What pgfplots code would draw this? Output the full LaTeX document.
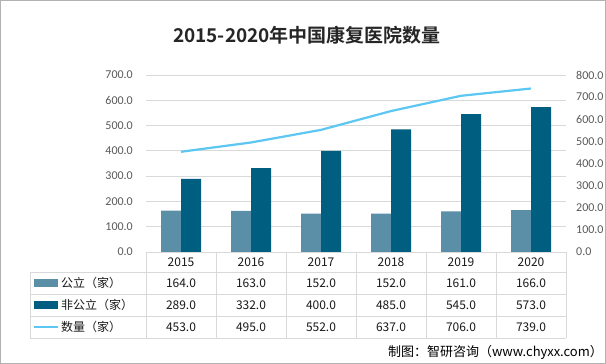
\documentclass[border=0pt]{standalone}
\usepackage{pgfplots}
\usepackage{pgfplotstable}
\pgfplotsset{compat=1.18}
\usepackage{fontspec}
\setmainfont{Carlito}
\newfontfamily\cjk[BoldFont={Noto Sans CJK SC Bold}]{Noto Sans CJK SC}
\definecolor{pub}{RGB}{91,143,168}
\definecolor{priv}{RGB}{0,94,128}
\definecolor{tot}{RGB}{92,199,242}
\definecolor{gridc}{RGB}{217,217,217}
\definecolor{tickc}{RGB}{89,89,89}
\pgfplotstableread{
x pub priv tot
0 164 289 453
1 163 332 495
2 152 400 552
3 152 485 637
4 161 545 706
5 166 573 739
}\datatable
\begin{document}
\begin{tikzpicture}[x=1pt,y=1pt]
\path[use as bounding box] (0,0) rectangle (606,364);
\fill[white] (0,0) rectangle (606,364);
\draw[gray!60, line width=1pt] (0.5,0.5) rectangle (605.5,363.5);
\node[font=\cjk\bfseries\fontsize{19}{22}\selectfont, text=black!85] at (307,329) {2015-2020年中国康复医院数量};
\begin{axis}[at={(146pt,112pt)}, anchor=south west, scale only axis,
  width=420pt, height=177pt, xmin=-0.5, xmax=5.5, ymin=0, ymax=700,
  ytick={0,100,...,700}, xtick=\empty, ymajorgrids,
  grid style={gridc, line width=0.8pt},
  axis line style={draw=none}, major tick length=0pt,
  ybar=0pt, bar width=20pt,
  yticklabel style={font=\fontsize{12}{14}\selectfont, text=tickc, inner sep=0pt, xshift=-13pt},
  /pgf/number format/assume math mode=true,
  /pgf/number format/fixed, /pgf/number format/fixed zerofill, /pgf/number format/precision=1]
\addplot[ybar, fill=pub, draw=none] table[x=x,y=pub]{\datatable};
\addplot[ybar, fill=priv, draw=none] table[x=x,y=priv]{\datatable};
\end{axis}
\begin{axis}[at={(146pt,112pt)}, anchor=south west, scale only axis,
  width=420pt, height=177pt, xmin=-0.5, xmax=5.5, ymin=0, ymax=800,
  ytick={0,100,...,800}, axis x line=none, axis y line*=right,
  axis line style={draw=none}, major tick length=0pt,
  yticklabel style={font=\fontsize{12}{14}\selectfont, text=tickc, inner sep=0pt, anchor=west, xshift=10pt},
  /pgf/number format/assume math mode=true,
  /pgf/number format/fixed, /pgf/number format/fixed zerofill, /pgf/number format/precision=1]
\addplot[tot, line width=2.2pt, no marks] table[x=x,y=tot]{\datatable};
\end{axis}
% data table
\draw[gridc, line width=0.8pt] (146,112) -- (566,112);
\foreach \yy in {92,70,48,26} \draw[gridc, line width=0.8pt] (30,\yy) -- (566,\yy);
\foreach \xx in {146,216,286,356,426,496,566} \draw[gridc, line width=0.8pt] (\xx,112) -- (\xx,26);
\draw[gridc, line width=0.8pt] (30,92) -- (30,26);
\foreach \i/\yr/\a/\b/\c in {0/2015/164.0/289.0/453.0, 1/2016/163.0/332.0/495.0, 2/2017/152.0/400.0/552.0, 3/2018/152.0/485.0/637.0, 4/2019/161.0/545.0/706.0, 5/2020/166.0/573.0/739.0}{
  \node[font=\cjk\fontsize{12}{14}\selectfont, text=black!90] at (181+70*\i,102) {\yr};
  \node[font=\cjk\fontsize{12}{14}\selectfont, text=black!90] at (181+70*\i,81) {\a};
  \node[font=\cjk\fontsize{12}{14}\selectfont, text=black!90] at (181+70*\i,59) {\b};
  \node[font=\cjk\fontsize{12}{14}\selectfont, text=black!90] at (181+70*\i,37) {\c};
}
\fill[pub] (34,77) rectangle (58,85);
\fill[priv] (34,55) rectangle (58,63);
\draw[tot, line width=2.2pt] (34,37) -- (58,37);
\node[anchor=west, inner sep=0pt, font=\cjk\fontsize{12}{14}\selectfont, text=black!90] at (61,81) {公立（家）};
\node[anchor=west, inner sep=0pt, font=\cjk\fontsize{12}{14}\selectfont, text=black!90] at (61,59) {非公立（家）};
\node[anchor=west, inner sep=0pt, font=\cjk\fontsize{12}{14}\selectfont, text=black!90] at (61,37) {数量（家）};
\node[anchor=east, inner sep=0pt, font=\cjk\fontsize{13}{15}\selectfont, text=black] at (603,12) {制图：智研咨询（www.chyxx.com）};
\end{tikzpicture}
\end{document}
